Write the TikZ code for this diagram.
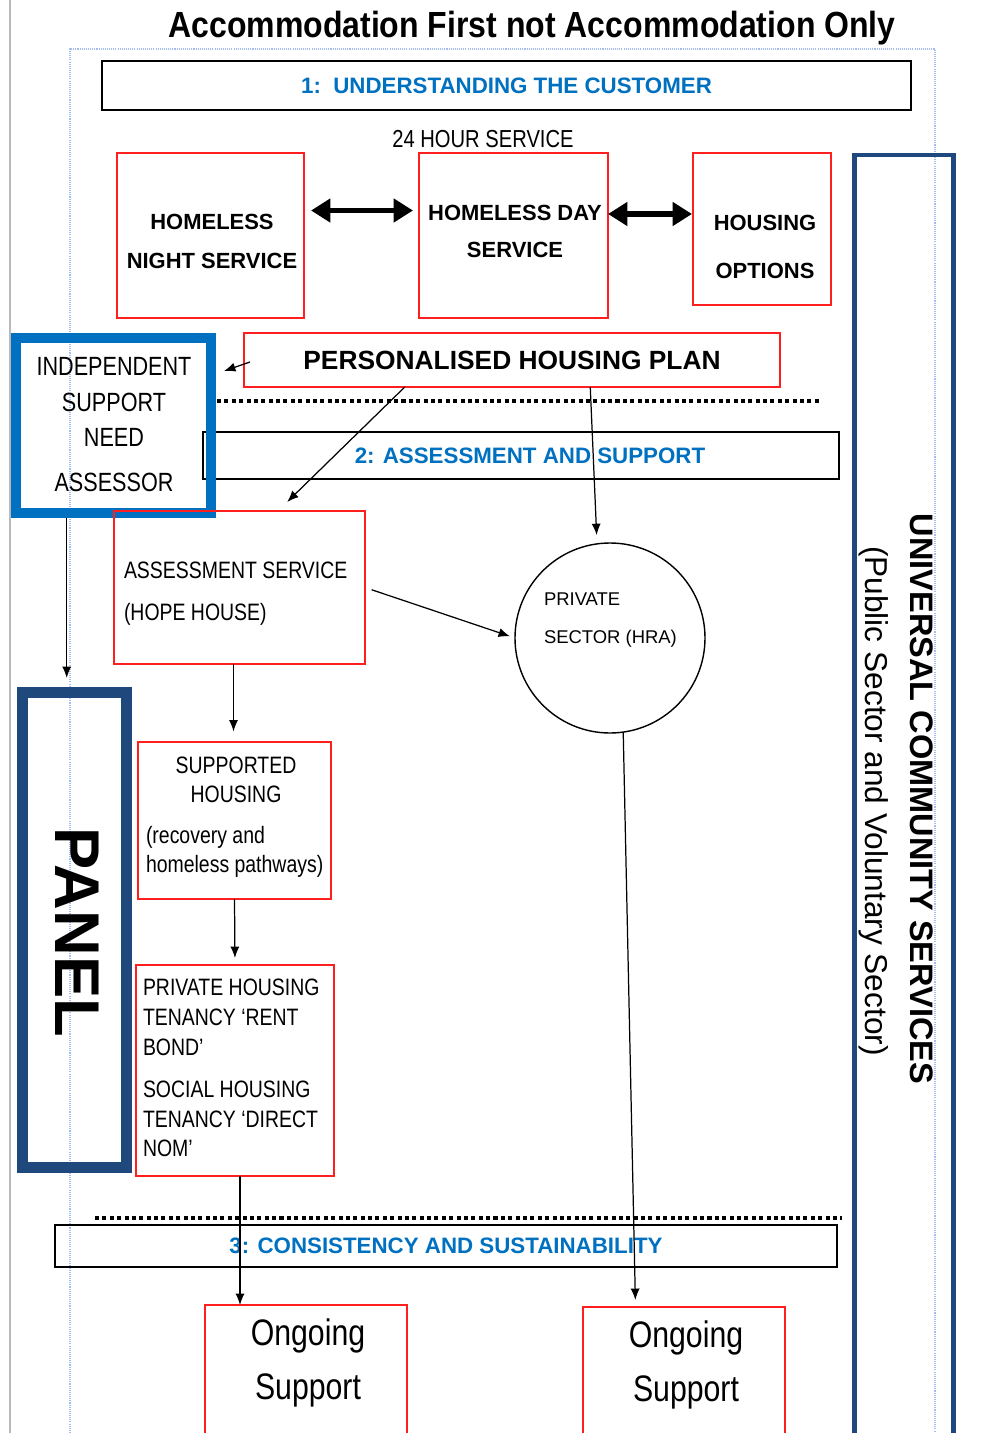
\documentclass[tikz,border=0pt]{standalone}
\usepackage{fontspec}
\setmainfont{Liberation Sans}
\newfontfamily\narrowfont[FakeStretch=0.82]{Liberation Sans}
\newfontfamily\titlefont[FakeStretch=0.88]{Liberation Sans}
\usepackage{tikz}
\usetikzlibrary{arrows.meta,calc}
\definecolor{planred}{HTML}{FF1F1F}
\definecolor{planblue}{HTML}{0070C0}
\definecolor{plannavy}{HTML}{1F497D}
\definecolor{planframe}{HTML}{A3BDF0}

\begin{document}
\begin{tikzpicture}[
        x=0.02cm, y=-0.02cm,
        every node/.style={inner sep=0pt, outer sep=0pt},
        sz/.style 2 args={minimum width=#1*0.02cm, minimum height=#2*0.02cm},
        redbox/.style={draw=planred, line width=0.9pt},
        stagebox/.style={draw=black, line width=1.2pt, text=planblue,
            font=\fontsize{12.7}{15}\selectfont\bfseries},
        capslbl/.style={align=center, font=\fontsize{12.5}{22}\selectfont\bfseries},
        narrowlbl/.style={align=left, font=\narrowfont\fontsize{13.5}{17}\selectfont},
        link/.style={-{Latex[length=6.5pt,width=5.2pt]}, line width=0.7pt},
        bigdouble/.style={{Triangle[length=11pt,width=13pt]}-{Triangle[length=11pt,width=13pt]},
            line width=3.4pt},
        stopline/.style={line width=2.5pt, dash pattern=on 2.3pt off 1.9pt},
        framedot/.style={draw=planframe, line width=0.6pt, dash pattern=on 0.6pt off 0.6pt}
    ]
    \clip (0,0) rectangle (982,1433);

    % ================= rahmen =========================
    \draw[gray!55, line width=0.7pt] (10,0) -- (10,1433);
    \draw[framedot] (70,1433) -- (70,49) -- (935,49) -- (935,1433);

    \node (title) at (532,28) {\titlefont\fontsize{20.7}{24}\selectfont\bfseries
        Accommodation First not Accommodation Only};

    % ================= (1) understanding the customer =========================
    \node[stagebox, sz={809}{49}] (stage1) at (506.5,85.5) {1:\ \ UNDERSTANDING THE CUSTOMER};
    \node[font=\narrowfont\fontsize{14}{16}\selectfont] (hours) at (483,139) {24 HOUR SERVICE};

    \node[redbox, sz={187}{165}] (night) at (210.5,235.5) {};
    \node[capslbl] (nightlbl) at (212,241.5) {HOMELESS\\NIGHT SERVICE};
    \node[redbox, sz={189}{165}] (day) at (513.5,235.5) {};
    \node[capslbl, font=\fontsize{12.5}{21}\selectfont\bfseries] (daylbl) at (515,231.5)
    {HOMELESS DAY\\SERVICE};
    \node[redbox, sz={138}{152}] (options) at (762,229) {};
    \node[capslbl, font=\fontsize{12.5}{27}\selectfont\bfseries] (optionslbl) at (765,247)
    {HOUSING\\OPTIONS};

    \draw[bigdouble] ($(night.east)+(7,-25)$) -- ($(day.west)+(-6,-25)$);
    \draw[bigdouble] ($(day.east)+(0,-21.5)$) -- ($(options.west)+(-1,-15)$);

    % universal services column
    \node[draw=plannavy, line width=2.8pt, sz={99}{1310}] (ucs) at (904,810) {};
    \node[rotate=-90, font=\fontsize{18.5}{22}\selectfont\bfseries] (ucsmain) at (922,799)
    {UNIVERSAL COMMUNITY SERVICES};
    \node[rotate=-90, font=\fontsize{18}{22}\selectfont] (ucssub) at (874,801)
    {(Public Sector and Voluntary Sector)};

    % ================= (2) assessment and support =========================
    \node[redbox, sz={536}{54}, font=\fontsize{15}{18}\selectfont\bfseries] (plan) at (512,360)
    {PERSONALISED HOUSING PLAN};
    \draw[stopline] (217,401) -- (822,401);
    \node[stagebox, sz={636}{47}] (stage2) at (521,455.5) {};
    \node[text=planblue, font=\fontsize{12.7}{15}\selectfont\bfseries] (stage2lbl) at (530,456)
    {2: ASSESSMENT AND SUPPORT};

    \node[draw=planblue, line width=5.7pt, sz={195}{175}] (isna) at (113.5,425.5) {};
    \node[align=center, font=\narrowfont\fontsize{15}{20}\selectfont] (isnalbl) at (114,425)
    {INDEPENDENT\\SUPPORT\\NEED\\[6pt]ASSESSOR};

    \coordinate (isnatip) at (224,371);
    \draw[link] ($(plan.west)+(6,2)$) -- (isnatip);

    \node[redbox, sz={251}{153}] (assess) at (239.5,587.5) {};
    \node[narrowlbl, anchor=west, font=\narrowfont\fontsize{13.5}{24}\selectfont] (assesslbl)
    at (124,594) {ASSESSMENT SERVICE\\(HOPE HOUSE)};

    \node[draw, line width=0.8pt, circle, minimum size=190*0.02cm] (hra) at (610,638) {};
    \node[align=left, anchor=west, font=\fontsize{10.5}{22}\selectfont] (hralbl) at (544,620)
    {PRIVATE\\SECTOR (HRA)};

    \draw[link, shorten >=7.4pt] ($(plan.south west)!0.3!(plan.south east)$)
    -- ($(assess.north west)!0.653!(assess.north east)$);
    \draw[link, shorten >=4.5pt] ($(plan.south west)!0.646!(plan.south east)$)
    -- ($(hra.north)+(-13,0)$);
    \draw[link, shorten <=4pt, shorten >=3pt] (assess.east) -- (hra.west);

    % panel
    \node[draw=plannavy, line width=6.5pt, sz={104}{475}] (panel) at (74.5,930) {};
    \node[rotate=-90, font=\fontsize{36}{40}\selectfont\bfseries] (panellbl) at (77,932) {PANEL};
    \draw[link, shorten <=3pt, shorten >=8.3pt] ($(isna.south west)!0.26!(isna.south east)$)
    coordinate (isnaout) -- (isnaout |- panel.north);

    \node[redbox, sz={193}{157}] (supp) at (234.5,820.5) {};
    \node[align=center, font=\narrowfont\fontsize{13.5}{16.5}\selectfont] (supplbl)
    at (236,779.5) {SUPPORTED\\HOUSING};
    \node[narrowlbl, anchor=west, font=\narrowfont\fontsize{13.5}{16.5}\selectfont] (suppnote)
    at (146,851.5) {(recovery and\\homeless pathways)};
    \draw[link, shorten >=6pt] ($(assess.south)+(-6,0)$) -- ($(assess.south |- supp.north)+(-6,0)$);

    \node[redbox, sz={198}{211}] (tenancy) at (235,1070.5) {};
    \node[narrowlbl, anchor=west] (tenancylbl) at (143,1068)
    {PRIVATE HOUSING\\TENANCY ‘RENT\\BOND’\\[7pt]SOCIAL HOUSING\\TENANCY ‘DIRECT\\NOM’};
    \draw[link, shorten >=4pt] (supp.south) -- (tenancy.north);

    % ================= (3) consistency and sustainability =========================
    \draw[stopline] (95,1218) -- (842,1218);
    \node[stagebox, sz={782}{42}] (stage3) at (446,1246) {3: CONSISTENCY AND SUSTAINABILITY};

    \foreach \n/\x/\y in {1/306/1305, 2/684/1307} {
        \node[redbox, sz={202}{160}, anchor=north] (ong\n) at (\x,\y) {};
        \node[align=center, font=\narrowfont\fontsize{21}{31}\selectfont] (ong\n lbl)
        at (\x+2,\y+58) {Ongoing\\Support};
    }

    \draw[link] ($(tenancy.south)+(5,0)$) -- ($(tenancy.south |- ong1.north)+(5,0)$);
    \draw[link, shorten >=4pt] (hra.-82) -- ($(ong2.north west)!0.26!(ong2.north east)$);
\end{tikzpicture}
\end{document}
